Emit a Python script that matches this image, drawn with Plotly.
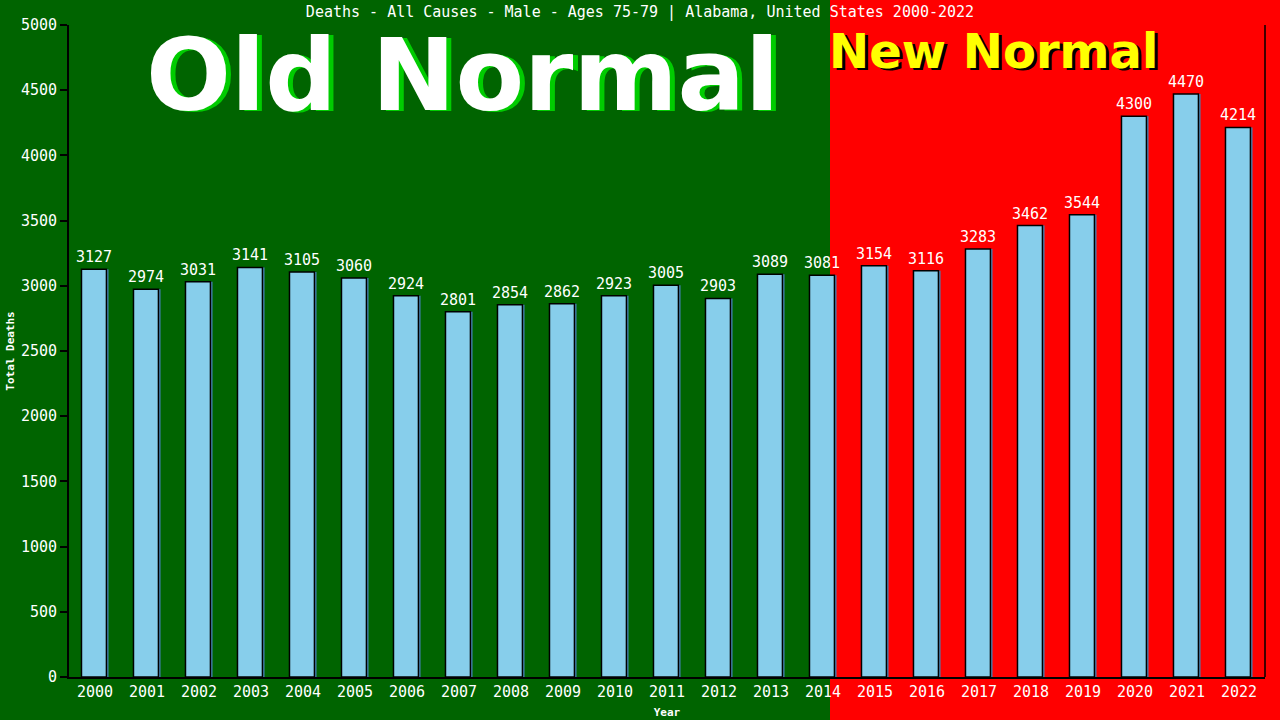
import plotly.graph_objects as go

years = [str(y) for y in range(2000, 2023)]
deaths = [3127, 2974, 3031, 3141, 3105, 3060, 2924, 2801, 2854, 2862, 2923, 3005,
          2903, 3089, 3081, 3154, 3116, 3283, 3462, 3544, 4300, 4470, 4214]
y_ticks = [0, 500, 1000, 1500, 2000, 2500, 3000, 3500, 4000, 4500, 5000]
title_text = "Deaths - All Causes - Male - Ages 75-79 | Alabama, United States 2000-2022"

MONO = "DejaVu Sans Mono"
BIG = "DejaVu Sans"

fig = go.Figure()
# shadow bars
fig.add_trace(go.Bar(
    x=years, y=deaths, width=0.48, offset=-0.22,
    marker=dict(color="#4682B4", line=dict(width=0)),
    hoverinfo="skip", showlegend=False,
))
# main bars
fig.add_trace(go.Bar(
    x=years, y=deaths, width=0.48, offset=-0.26,
    marker=dict(color="#87CEEB", line=dict(color="black", width=1.5)),
    text=[str(v) for v in deaths], textposition="outside", constraintext="none",
    textfont=dict(family=MONO, size=15, color="white"),
    cliponaxis=False, showlegend=False,
))

split = (830 - 69) / 1196
fig.add_shape(type="rect", xref="paper", yref="paper", x0=split, x1=1.2, y0=-0.2, y1=1.2,
              fillcolor="#FF0000", line=dict(width=0), layer="below")

fig.update_layout(
    width=1280, height=720,
    margin=dict(l=69, r=15, t=25, b=43, autoexpand=False),
    paper_bgcolor="#006400", plot_bgcolor="rgba(0,0,0,0)",
    barmode="overlay", bargap=0.5,
    title=dict(text=title_text, x=0.5, xanchor="center", y=0.983, yanchor="middle",
               font=dict(family=MONO, size=15, color="white")),
    font=dict(family=MONO, color="white"),
)
fig.update_xaxes(
    type="category", range=[-0.5, 22.5], showgrid=False, automargin=False,
    showline=True, linecolor="black", linewidth=2, mirror=False,
    ticks="", tickfont=dict(family=MONO, size=15, color="white"),
    title=dict(text="<b>Year</b>", font=dict(family=MONO, size=11, color="white"), standoff=8),
)
fig.update_yaxes(
    range=[0, 5000], tickvals=y_ticks, showgrid=False, zeroline=False, automargin=False,
    showline=True, linecolor="black", linewidth=2,
    ticks="outside", ticklen=7, tickcolor="black", tickwidth=1.5,
    tickfont=dict(family=MONO, size=15, color="white"),
    title=dict(text="<b>Total Deaths</b>", font=dict(family=MONO, size=11, color="white"), standoff=4),
)
# right border line
fig.add_shape(type="line", xref="paper", yref="paper", x0=1, x1=1, y0=0, y1=1,
              line=dict(color="black", width=1.5))

# Old Normal with shadow
fig.add_annotation(text="<b>Old Normal</b>", xref="paper", yref="paper",
                   x=(467 - 69) / 1196, y=(677 - 77) / 652, xanchor="center", yanchor="middle",
                   showarrow=False, font=dict(family=BIG, size=100, color="#00CC00"))
fig.add_annotation(text="<b>Old Normal</b>", xref="paper", yref="paper",
                   x=(462 - 69) / 1196, y=(677 - 75) / 652, xanchor="center", yanchor="middle",
                   showarrow=False, font=dict(family=BIG, size=100, color="white"))
# New Normal with shadow
fig.add_annotation(text="<b>New Normal</b>", xref="paper", yref="paper",
                   x=(996 - 69) / 1196, y=(677 - 53) / 652, xanchor="center", yanchor="middle",
                   showarrow=False, font=dict(family=BIG, size=48, color="black"))
fig.add_annotation(text="<b>New Normal</b>", xref="paper", yref="paper",
                   x=(993 - 69) / 1196, y=(677 - 51) / 652, xanchor="center", yanchor="middle",
                   showarrow=False, font=dict(family=BIG, size=48, color="#FFFF00"))

fig.write_html("out.html", config={"displayModeBar": False},
               post_script="document.body.style.margin='0';document.body.style.padding='0';"
                           "document.body.style.overflow='hidden';")
